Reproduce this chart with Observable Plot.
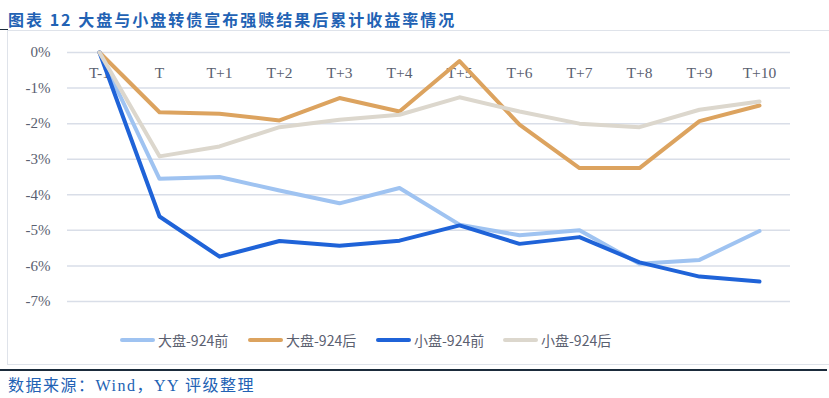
<!DOCTYPE html>
<html>
<head>
<meta charset="utf-8">
<script src="https://cdn.jsdelivr.net/npm/d3@7"></script>
<script src="https://cdn.jsdelivr.net/npm/@observablehq/plot@0.6"></script>
<style>
  html, body { margin: 0; padding: 0; background: #fff; }
  #wrap { position: relative; width: 829px; height: 398px; overflow: hidden; background: #fff; }
  #title { position: absolute; left: 8px; top: 7px; font-family: "Noto Sans CJK SC", sans-serif; font-weight: 700; font-size: 16px; letter-spacing: 2px; color: #2262b4; white-space: nowrap; }
  #tick { position: absolute; left: 0; top: 29px; width: 8px; height: 1px; background: #1b2b3b; }
  #frame { position: absolute; left: 7px; top: 30px; width: 830px; height: 335px; border: 1px solid #dfe3ea; box-sizing: border-box; }
  #rule { position: absolute; left: 0; top: 369px; width: 827px; height: 1.5px; background: #1b2b3b; }
  #chart { position: absolute; left: 0; top: 0; }
  #legend { position: absolute; left: 0; top: 330px; width: 829px; height: 20px; }
  .item { position: absolute; top: 0; display: flex; align-items: center; height: 20px; font-family: "Noto Sans CJK SC", sans-serif; font-size: 14px; color: #5a6070; white-space: nowrap; }
  .sw { width: 35px; height: 4px; border-radius: 2px; margin-right: 3px; }
  #source { position: absolute; left: 8px; top: 372px; font-family: "Liberation Serif", "Noto Sans CJK SC", serif; font-size: 16px; letter-spacing: 1.5px; color: #2262b4; white-space: nowrap; }
</style>
</head>
<body>
<div id="wrap">
  <div id="title"></div>
  <div id="tick"></div>
  <div id="frame"></div>
  <div id="chart"></div>
  <div id="legend"></div>
  <div id="rule"></div>
  <div id="source"></div>
</div>
<script>
const titleText = "图表 12 大盘与小盘转债宣布强赎结果后累计收益率情况";
const sourceText = "数据来源：Wind，YY 评级整理";
const categories = ["T-1","T","T+1","T+2","T+3","T+4","T+5","T+6","T+7","T+8","T+9","T+10"];
const seriesNames = ["大盘-924前","大盘-924后","小盘-924前","小盘-924后"];
const seriesColors = ["#9fc3f1","#dca35f","#1f63d8","#dcd7cd"];
const largeBefore = [0,-3.55,-3.50,-3.88,-4.24,-3.81,-4.84,-5.14,-5.00,-5.94,-5.83,-5.02];
const largeAfter  = [0,-1.68,-1.72,-1.91,-1.28,-1.66,-0.24,-2.03,-3.25,-3.25,-1.93,-1.49];
const smallBefore = [0,-4.61,-5.74,-5.30,-5.43,-5.29,-4.86,-5.38,-5.19,-5.90,-6.30,-6.44];
const smallAfter  = [0,-2.92,-2.64,-2.10,-1.89,-1.75,-1.26,-1.66,-2.00,-2.10,-1.61,-1.38];
const yTicks = [0,-1,-2,-3,-4,-5,-6,-7];

document.getElementById("title").textContent = titleText;
document.getElementById("source").textContent = sourceText;

const allSeries = [largeBefore, largeAfter, smallBefore, smallAfter];
const rows = [];
allSeries.forEach((vals, si) => {
  vals.forEach((v, i) => rows.push({series: seriesNames[si], cat: categories[i], value: v}));
});

const chart = Plot.plot({
  width: 829,
  height: 398,
  marginLeft: 67,
  marginRight: 39,
  marginTop: 52,
  marginBottom: 97,
  style: {background: "transparent", overflow: "visible"},
  x: {type: "point", domain: categories, padding: 0.5, axis: null},
  y: {domain: [-7, 0], axis: null},
  color: {domain: seriesNames, range: seriesColors},
  marks: [
    Plot.ruleY(yTicks, {stroke: "#d9dee8", strokeWidth: 1.5}),
    Plot.axisY(yTicks, {label: null, tickSize: 0, tickPadding: 17, tickFormat: d => d + "%", fontSize: 15, fontFamily: "Liberation Serif, serif", fill: "#5a6070", color: "#5a6070"}),
    Plot.text(categories, {x: d => d, y: () => 0, dy: 21, text: d => d, fontSize: 15.5, fontFamily: "Liberation Serif, serif", fill: "#5a6070"}),
    Plot.line(rows, {x: "cat", y: "value", z: "series", stroke: "series", strokeWidth: 4, strokeLinejoin: "round", strokeLinecap: "round"})
  ]
});
document.getElementById("chart").appendChild(chart);

const legend = document.getElementById("legend");
const lefts = [120, 248, 376, 503];
seriesNames.forEach((n, i) => {
  const it = document.createElement("div");
  it.className = "item";
  it.style.left = lefts[i] + "px";
  const sw = document.createElement("span");
  sw.className = "sw";
  sw.style.background = seriesColors[i];
  const tx = document.createElement("span");
  tx.textContent = n;
  it.appendChild(sw);
  it.appendChild(tx);
  legend.appendChild(it);
});
</script>
</body>
</html>
